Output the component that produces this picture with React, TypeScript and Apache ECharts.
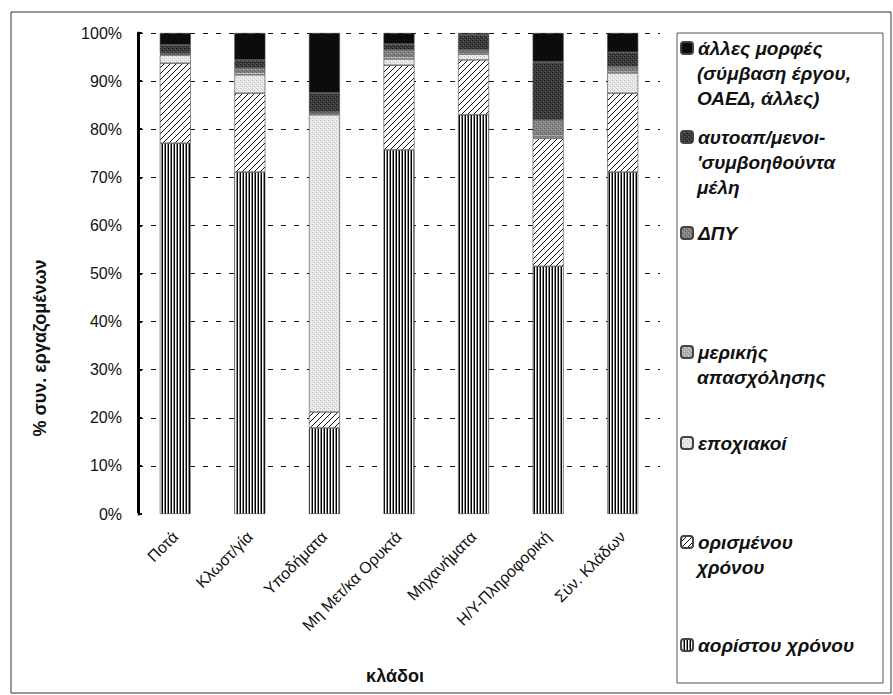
import React, { useEffect, useRef } from "react";
import * as echarts from "echarts";

const categories = ["Ποτά", "Κλωστ/γία", "Υποδήματα", "Μη Μετ/κα Ορυκτά", "Μηχανήματα", "Η/Υ-Πληροφορική", "Σύν. Κλάδων"];

const seriesNames = [
  "αορίστου χρόνου",
  "ορισμένου χρόνου",
  "εποχιακοί",
  "μερικής απασχόλησης",
  "ΔΠΥ",
  "αυτοαπ/μενοι-'συμβοηθούντα μέλη",
  "άλλες μορφές (σύμβαση έργου, ΟΑΕΔ, άλλες)",
];

const legendLines = [
  ["αορίστου χρόνου"],
  ["ορισμένου", "χρόνου"],
  ["εποχιακοί"],
  ["μερικής", "απασχόλησης"],
  ["ΔΠΥ"],
  ["αυτοαπ/μενοι-", "'συμβοηθούντα", "μέλη"],
  ["άλλες μορφές", "(σύμβαση έργου,", "ΟΑΕΔ, άλλες)"],
];

const aoristou = [77.1, 71.1, 17.9, 75.7, 83.0, 51.5, 71.1];
const orismenou = [16.6, 16.4, 3.3, 17.6, 11.4, 26.6, 16.4];
const epoxiakoi = [1.7, 3.8, 61.8, 1.3, 1.2, 0.3, 4.2];
const merikis = [0.2, 0.6, 0.3, 0.6, 0.4, 0.5, 0.5];
const dpy = [0.2, 0.8, 0.3, 1.3, 0.5, 3.0, 0.8];
const autoapasx = [1.7, 1.7, 3.9, 1.2, 3.1, 12.1, 3.0];
const alles = [2.5, 5.6, 12.5, 2.3, 0.4, 6.0, 4.0];

const seriesData = [aoristou, orismenou, epoxiakoi, merikis, dpy, autoapasx, alles];

const yTicks = [0, 10, 20, 30, 40, 50, 60, 70, 80, 90, 100];

// legend first-line centers (px) for each series
const legendCenters = [645, 542, 443, 352, 233, 137, 48];

const FONT = '"Liberation Sans", Arial, sans-serif';

function makeCanvas(w: number, h: number, draw: (ctx: CanvasRenderingContext2D) => void) {
  const c = document.createElement("canvas");
  c.width = w;
  c.height = h;
  const ctx = c.getContext("2d") as CanvasRenderingContext2D;
  draw(ctx);
  return { image: c, repeat: "repeat", imageWidth: w, imageHeight: h } as any;
}

function dotted(bg: string, dot: string, dot2: string) {
  return makeCanvas(4, 4, (ctx) => {
    ctx.fillStyle = bg;
    ctx.fillRect(0, 0, 4, 4);
    ctx.fillStyle = dot;
    ctx.fillRect(0, 0, 1, 1);
    ctx.fillRect(2, 2, 1, 1);
    ctx.fillStyle = dot2;
    ctx.fillRect(3, 1, 1, 1);
    ctx.fillRect(1, 3, 1, 1);
  });
}

export default function App() {
  const ref = useRef<HTMLDivElement>(null);

  useEffect(() => {
    document.body.style.margin = "0";
    if (!ref.current) return;
    const chart = echarts.init(ref.current, null, { renderer: "svg" });

    const stripes = makeCanvas(3, 2, (ctx) => {
      ctx.fillStyle = "#ffffff";
      ctx.fillRect(0, 0, 3, 2);
      ctx.fillStyle = "#000000";
      ctx.fillRect(0, 0, 1, 2);
      ctx.fillStyle = "#8a8a8a";
      ctx.fillRect(2, 0, 1, 2);
    });
    const hatch = makeCanvas(6, 6, (ctx) => {
      ctx.fillStyle = "#ffffff";
      ctx.fillRect(0, 0, 6, 6);
      ctx.strokeStyle = "#111111";
      ctx.lineWidth = 1;
      for (const k of [-6, 0, 6]) {
        ctx.beginPath();
        ctx.moveTo(k, 6);
        ctx.lineTo(k + 6, 0);
        ctx.stroke();
      }
    });
    const fills = [
      stripes,
      hatch,
      dotted("#e6e6e6", "#c4c4c4", "#f6f6f6"),
      dotted("#b4b4b4", "#8c8c8c", "#d0d0d0"),
      dotted("#858585", "#5c5c5c", "#a0a0a0"),
      dotted("#3a3a3a", "#1a1a1a", "#666666"),
      "#0c0c0c",
    ];

    const L = 25;
    const LEG_FS = 19;
    const legendFont = `italic bold ${LEG_FS}px "Liberation Sans", Arial, sans-serif`;

    const legends = seriesNames.map((name, i) => ({
      data: [name],
      left: 680,
      top: legendCenters[i] - L / 2,
      orient: "vertical",
      padding: 0,
      itemWidth: 12,
      itemHeight: 12,
      itemGap: 0,
      selectedMode: false,
      formatter: () => legendLines[i][0],
      textStyle: {
        fontFamily: FONT,
        fontSize: LEG_FS,
        fontWeight: "bold",
        fontStyle: "italic",
        color: "#111",
        lineHeight: L,
      },
    }));

    const extraLegendTexts: any[] = [];
    legendLines.forEach((lines, i) => {
      lines.slice(1).forEach((t, k) => {
        extraLegendTexts.push({
          type: "text",
          x: 697,
          y: legendCenters[i] + (k + 1) * L,
          silent: true,
          style: {
            text: t,
            font: legendFont,
            fill: "#111",
            align: "left",
            verticalAlign: "middle",
          },
        });
      });
    });

    chart.setOption({
      animation: false,
      backgroundColor: "#ffffff",
      grid: { left: 138, right: 233, top: 33, bottom: 181, containLabel: false },
      legend: legends,
      xAxis: {
        type: "category",
        data: categories,
        axisLine: { show: true, lineStyle: { color: "#ffffff", width: 2 } },
        axisTick: { show: false },
        axisLabel: {
          interval: 0,
          rotate: 45,
          margin: 20,
          fontFamily: FONT,
          fontSize: 16,
          color: "#111",
        },
      },
      yAxis: {
        type: "value",
        min: yTicks[0],
        max: yTicks[yTicks.length - 1],
        interval: 10,
        axisLine: { show: true, lineStyle: { color: "#000", width: 3 } },
        axisTick: { show: true, inside: true, length: 4, lineStyle: { color: "#000", width: 2 } },
        axisLabel: {
          formatter: "{value}%",
          margin: 16,
          fontFamily: FONT,
          fontSize: 16,
          color: "#111",
        },
        splitLine: { show: true, lineStyle: { color: "#111", width: 1.2, type: [5, 8] } },
      },
      series: seriesNames.map((name, i) => ({
        name,
        type: "bar",
        stack: "total",
        barWidth: 31,
        data: seriesData[i],
        itemStyle: { color: fills[i], borderColor: "#444", borderWidth: 0.6 },
      })),
      graphic: [
        {
          type: "rect",
          shape: { x: 11, y: 12, width: 880, height: 681 },
          style: { fill: "none", stroke: "#333", lineWidth: 1 },
          silent: true,
          z: -1,
        },
        {
          type: "rect",
          shape: { x: 677, y: 33, width: 206, height: 650 },
          style: { fill: "none", stroke: "#555", lineWidth: 1 },
          silent: true,
          z: -1,
        },
        {
          type: "text",
          x: 40,
          y: 348,
          rotation: Math.PI / 2,
          style: {
            text: "% συν. εργαζομένων",
            font: 'bold 18px "Liberation Sans", Arial, sans-serif',
            fill: "#111",
            align: "center",
            verticalAlign: "middle",
          },
        },
        {
          type: "text",
          x: 395,
          y: 676,
          style: {
            text: "κλάδοι",
            font: 'bold 18px "Liberation Sans", Arial, sans-serif',
            fill: "#111",
            align: "center",
            verticalAlign: "middle",
          },
        },
        ...extraLegendTexts,
      ],
    });

    return () => chart.dispose();
  }, []);

  return <div ref={ref} style={{ position: "absolute", left: 0, top: 0, width: 893, height: 695 }} />;
}
